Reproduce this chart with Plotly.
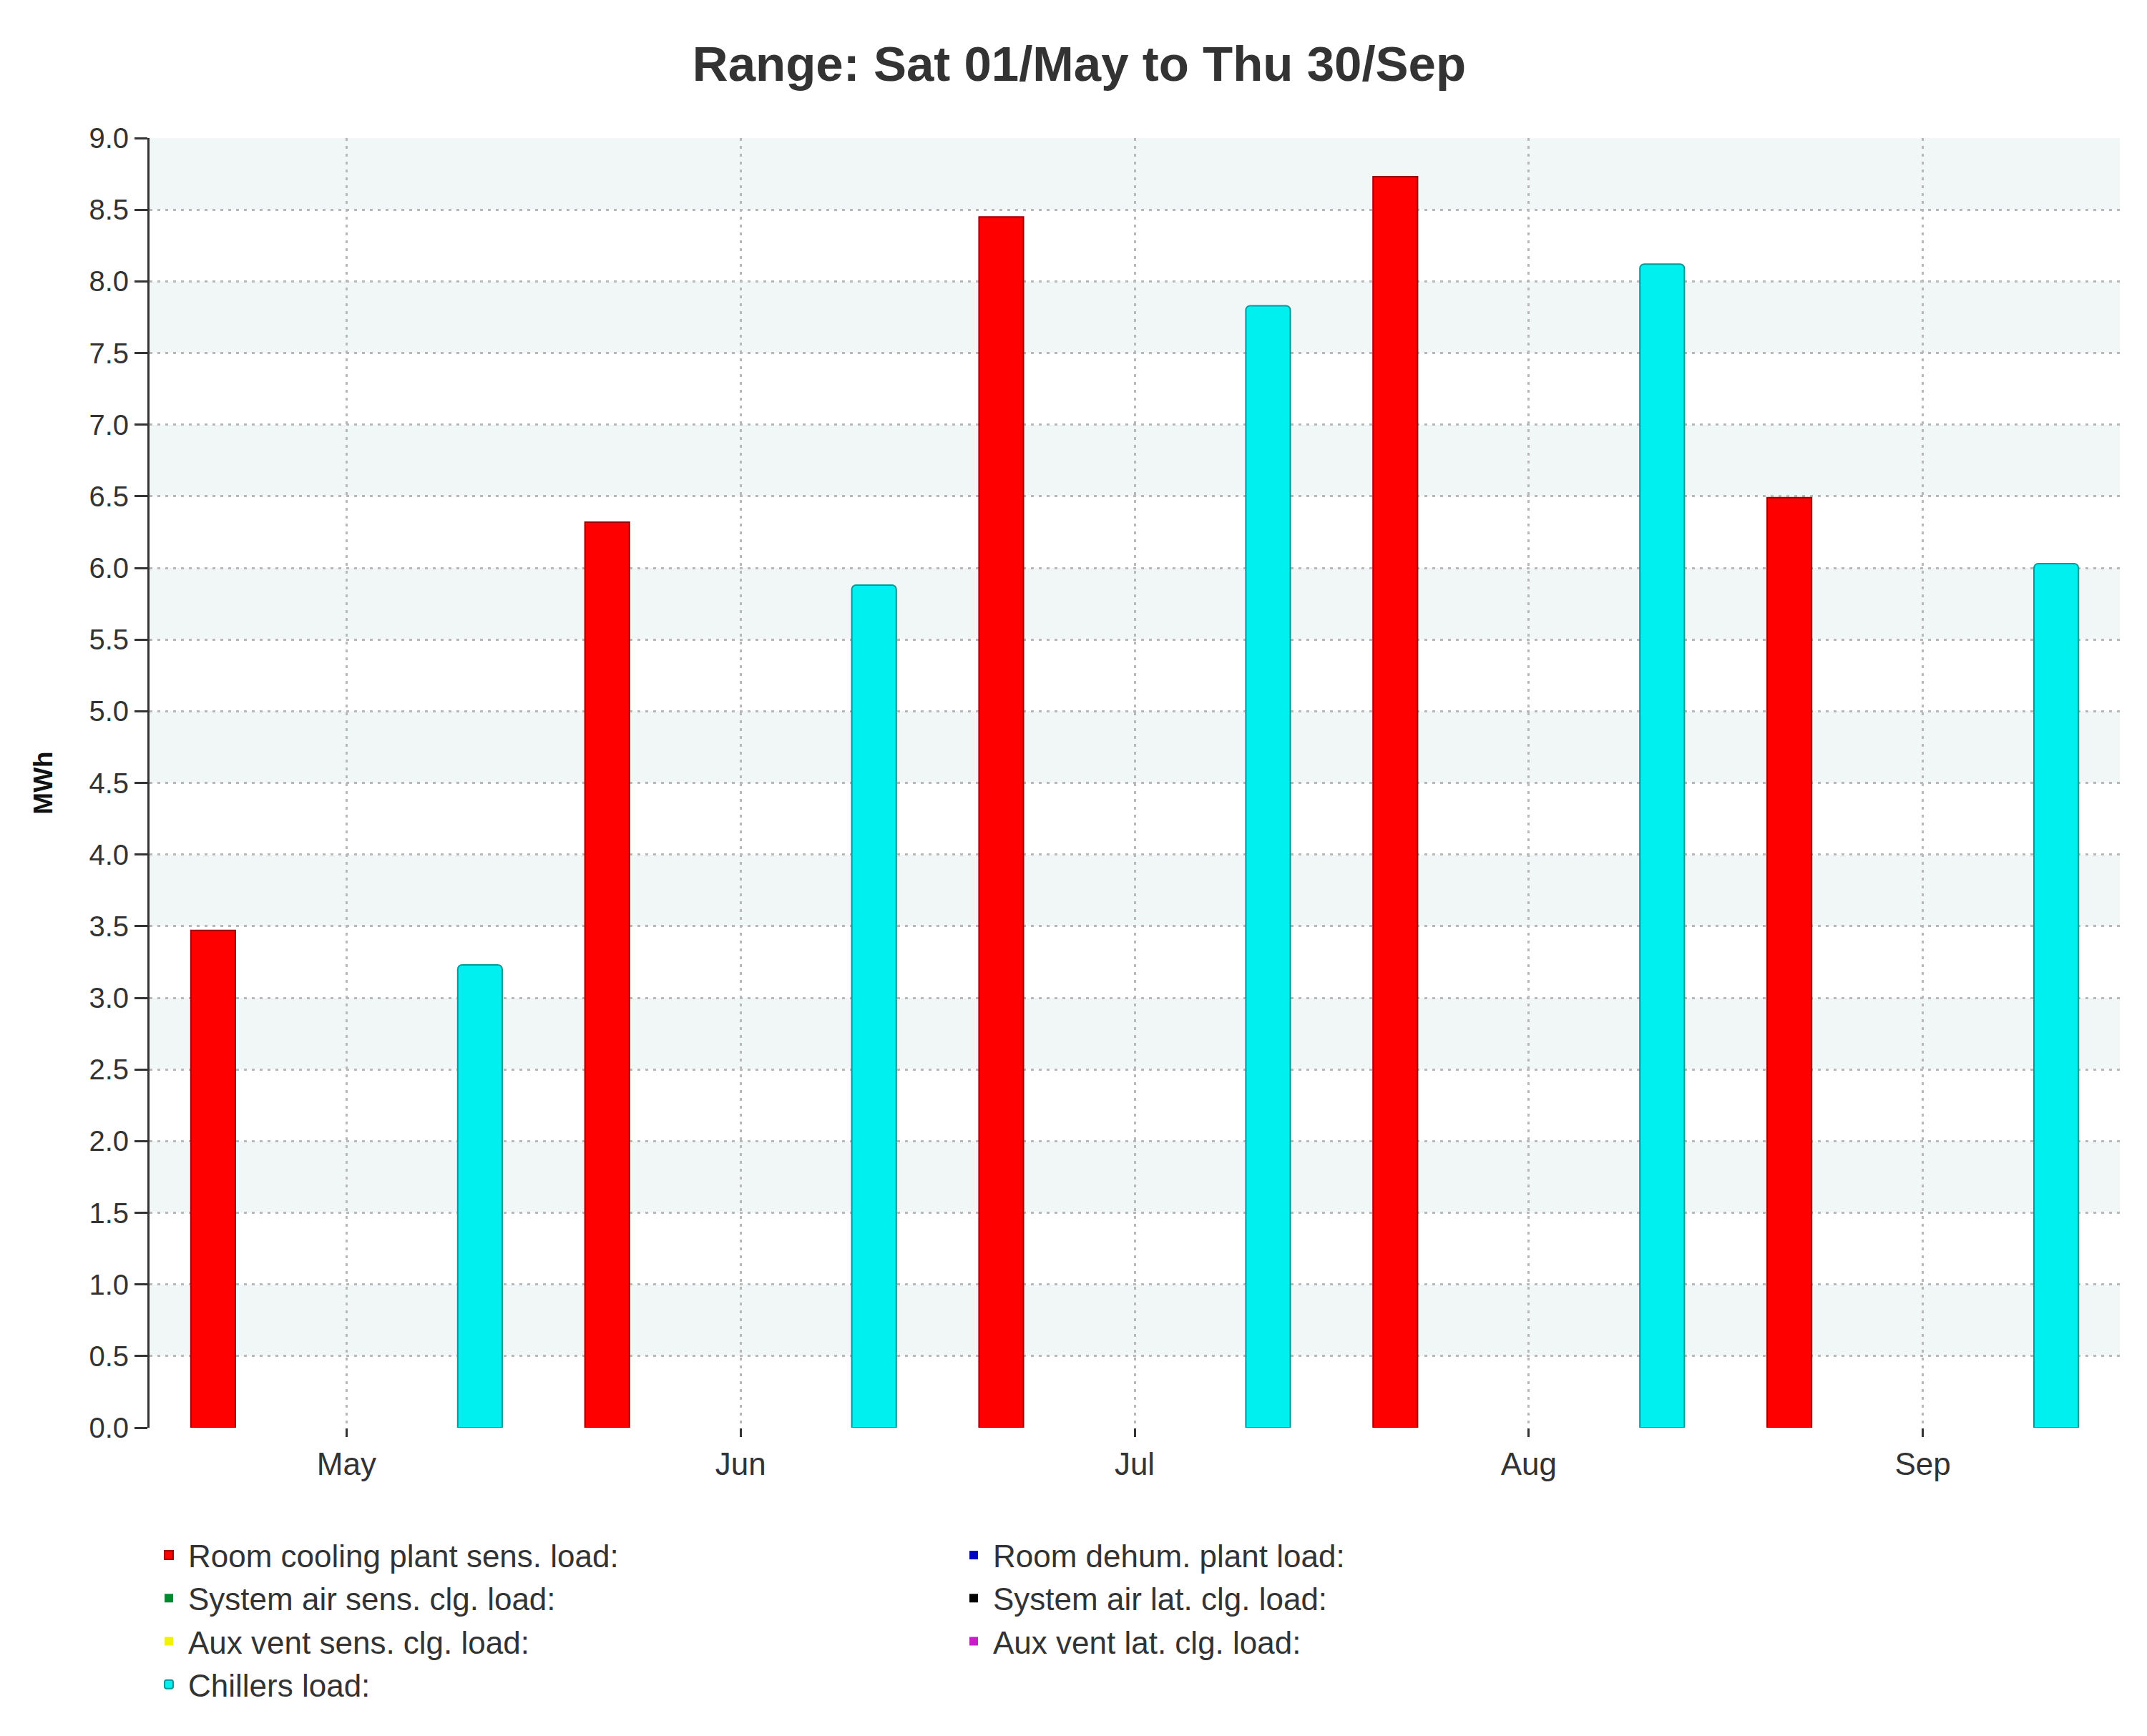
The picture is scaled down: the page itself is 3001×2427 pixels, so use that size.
import plotly.graph_objects as go

months = ["May", "Jun", "Jul", "Aug", "Sep"]
series_names = [
    "Room cooling plant sens. load:",
    "Room dehum. plant load:",
    "System air sens. clg. load:",
    "System air lat. clg. load:",
    "Aux vent sens. clg. load:",
    "Aux vent lat. clg. load:",
    "Chillers load:",
]
room_cooling = [3.47, 6.32, 8.45, 8.73, 6.49]
room_dehum = [0, 0, 0, 0, 0]
sys_air_sens = [0, 0, 0, 0, 0]
sys_air_lat = [0, 0, 0, 0, 0]
aux_vent_sens = [0, 0, 0, 0, 0]
aux_vent_lat = [0, 0, 0, 0, 0]
chillers = [3.23, 5.88, 7.83, 8.12, 6.03]
y_ticks = [i * 0.5 for i in range(19)]
y_tick_labels = [f"{v:.1f}" for v in y_ticks]

series_values = [room_cooling, room_dehum, sys_air_sens, sys_air_lat,
                 aux_vent_sens, aux_vent_lat, chillers]
colors = ["#FF0000", "#0000C8", "#008A2E", "#000000", "#F2F200", "#C81EC8", "#00F0F0"]
edge = ["#A00000", "#000080", "#005000", "#000000", "#A0A000", "#800080", "#009A9A"]
edge_w = [2, 0, 0, 0, 0, 0, 2]
radius = [0, 0, 0, 0, 0, 0, 6]

FONT = "Liberation Sans, Arial, sans-serif"
TXT = "#333333"

fig = go.Figure()
for name, vals, c, e, w, r in zip(series_names, series_values, colors, edge, edge_w, radius):
    fig.add_trace(go.Bar(
        x=months, y=vals, name=name,
        marker=dict(color=c, line=dict(color=e, width=w), cornerradius=r),
    ))

# alternating background bands between gridlines
shapes = []
for i in range(1, len(y_ticks) - 1, 2):
    shapes.append(dict(type="rect", xref="paper", yref="y", x0=0, x1=1,
                       y0=y_ticks[i], y1=y_ticks[i + 1],
                       fillcolor="#F1F6F7", line=dict(width=0), layer="below"))

fig.update_layout(
    width=3001, height=2427,
    paper_bgcolor="white", plot_bgcolor="white",
    margin=dict(l=201, r=46, t=185, b=439),
    barmode="group", bargap=0.21, bargroupgap=0,
    shapes=shapes,
    title=dict(text="Range: Sat 01/May to Thu 30/Sep", x=0.5, xanchor="center",
               y=0.9667, yanchor="middle",
               font=dict(family=FONT, size=69, color=TXT, weight="bold")),
    font=dict(family=FONT, color=TXT),
    legend=dict(orientation="h", x=0.0, xanchor="left", y=-0.0793, yanchor="top",
                entrywidth=1066, entrywidthmode="pixels", itemwidth=44,
                font=dict(family=FONT, size=44, color=TXT),
                traceorder="normal", bgcolor="rgba(0,0,0,0)"),
)
fig.update_xaxes(
    type="category", range=[-0.5, 4.5],
    showgrid=True, gridcolor="#B8B8B8", gridwidth=3, griddash="4px,7px",
    showline=False, zeroline=False,
    ticks="outside", ticklen=12, tickwidth=3, tickcolor=TXT,
    tickfont=dict(family=FONT, size=44, color=TXT),
)
fig.update_yaxes(
    range=[0, 9.0], tickvals=y_ticks, ticktext=y_tick_labels,
    showgrid=True, gridcolor="#B8B8B8", gridwidth=3, griddash="4px,7px",
    showline=True, linecolor=TXT, linewidth=3, zeroline=False,
    ticks="outside", ticklen=18, tickwidth=3, tickcolor=TXT,
    tickfont=dict(family=FONT, size=40, color=TXT),
    title=dict(text="MWh", standoff=40,
               font=dict(family=FONT, size=37, color="#111111", weight="bold")),
)

fig.write_html("out.html")
